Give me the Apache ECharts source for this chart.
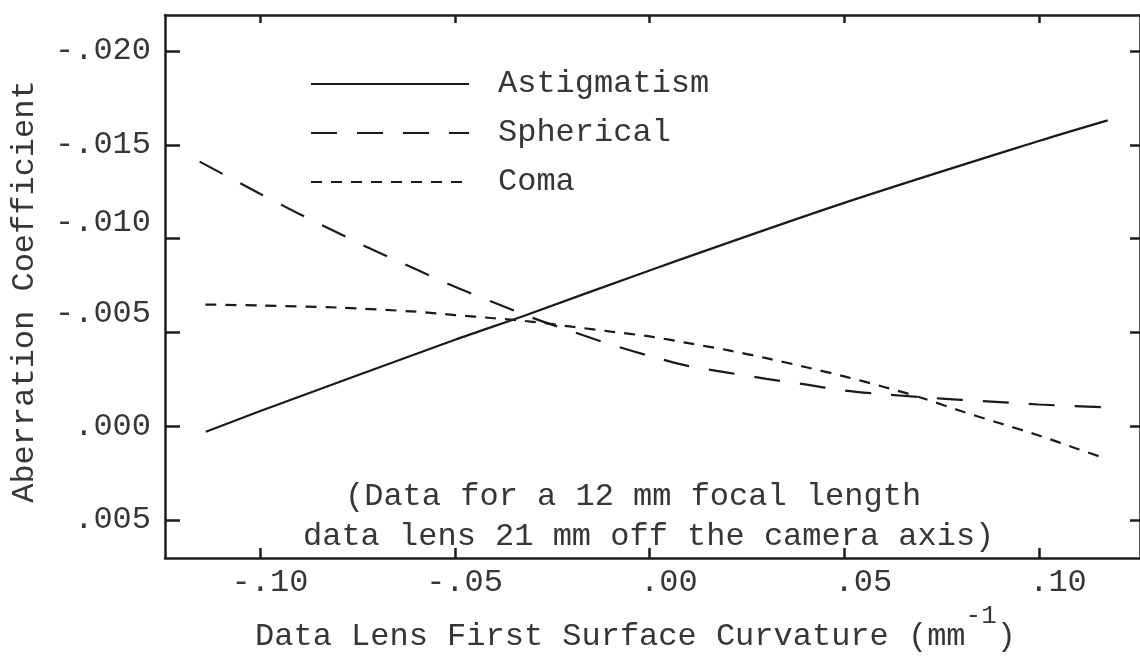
<!DOCTYPE html>
<html>
<head>
<meta charset="utf-8">
<script src="https://cdn.jsdelivr.net/npm/echarts@6/dist/echarts.min.js"></script>
<style>
  html, body { margin: 0; padding: 0; background: #fff; }
  #chart { width: 1140px; height: 658px; }
</style>
</head>
<body>
<div id="chart"></div>
<script>
// curves (x = curvature in 1/mm, y = coefficient)
const astigmatismX = [-0.114, -0.10, -0.05, -0.032, 0.0, 0.05, 0.10, 0.1177];
const astigmatismY = [0.0003, -0.0008, -0.0046, -0.0059, -0.0083, -0.0119, -0.0152, -0.0163];

const sphericalX = [-0.1156, -0.10, -0.09, -0.08, -0.07, -0.06, -0.05, -0.04, -0.03, -0.02, -0.01, 0.0,
  0.01, 0.02, 0.03, 0.04, 0.05, 0.06, 0.07, 0.08, 0.09, 0.10, 0.1162];
const sphericalY = [-0.0141, -0.01238, -0.01131, -0.01029, -0.00929, -0.00836, -0.00743, -0.00659, -0.00577,
  -0.00505, -0.00435, -0.00374, -0.00320, -0.00285, -0.00252, -0.00222, -0.00190, -0.00170, -0.00154,
  -0.00140, -0.00128, -0.00115, -0.00101];

const comaX = [-0.1141, -0.10, -0.08, -0.06, -0.05, -0.04, -0.03, -0.02, -0.01, 0.0, 0.01, 0.02, 0.03,
  0.04, 0.05, 0.06, 0.07, 0.08, 0.09, 0.10, 0.11, 0.1174];
const comaY = [-0.00648, -0.00643, -0.00632, -0.00610, -0.00592, -0.00575, -0.00556, -0.00530, -0.00504,
  -0.00478, -0.00442, -0.00405, -0.00362, -0.00315, -0.00265, -0.00210, -0.00150, -0.00080, -0.00015,
  0.00050, 0.00122, 0.00175];

const seriesNames = ["Astigmatism", "Spherical", "Coma"];

const xTicks = [-0.10, -0.05, 0.0, 0.05, 0.10];
const xTickLabels = [" -.10", " -.05", "  .00", "  .05", "  .10"];
const yTicks = [-0.020, -0.015, -0.010, -0.005, 0.0, 0.005];
const yTickLabels = ["-.020", "-.015", "-.010", "-.005", ".000", ".005"];

const noteLines = ["(Data for a 12 mm focal length", "data lens 21 mm off the camera axis)"];

const FONT = "'Liberation Mono', 'Courier New', monospace";
const INK = "#363636";
const AXIS = "#1e1e1e";

const pairs = (xs, ys) => xs.map((x, i) => [x, ys[i]]);
const findIdx = (ticks, v) => ticks.findIndex((t) => Math.abs(t - v) < 1e-9);

const chart = echarts.init(document.getElementById("chart"));

const axisLineStyle = { color: AXIS, width: 2.5 };
const tickStyle = { color: AXIS, width: 2.5 };

chart.setOption({
  animation: false,
  backgroundColor: "#fff",
  grid: { left: 165, right: -2, top: 15, bottom: 71 },
  legend: {
    data: seriesNames,
    orient: "vertical",
    left: 305,
    top: 63,
    itemWidth: 158,
    itemHeight: 14,
    itemGap: 17,
    itemStyle: { opacity: 0 },
    textStyle: { fontFamily: FONT, fontSize: 32, color: INK, lineHeight: 32, padding: [0, 0, 0, 24] },
  },
  xAxis: [
    {
      type: "value",
      position: "bottom",
      min: -0.1245,
      max: 0.126,
      axisLine: { onZero: false, lineStyle: axisLineStyle },
      axisTick: { inside: true, length: 10, customValues: xTicks, lineStyle: tickStyle },
      axisLabel: {
        customValues: xTicks,
        margin: 8,
        fontFamily: FONT,
        fontSize: 32,
        color: INK,
        formatter: (v) => xTickLabels[findIdx(xTicks, v)] || "",
      },
      splitLine: { show: false },
      name: "{a|Data Lens First Surface Curvature (mm}{s|-1}{a|)}",
      nameLocation: "middle",
      nameGap: 22,
      nameTextStyle: {
        padding: [0, 34, 0, 0],
        rich: {
          a: { fontFamily: FONT, fontSize: 32, color: INK, lineHeight: 32, verticalAlign: "bottom" },
          s: { fontFamily: FONT, fontSize: 26, color: INK, lineHeight: 26, verticalAlign: "bottom", padding: [0, 0, 24, 0] },
        },
      },
    },
    {
      type: "value",
      position: "top",
      min: -0.1245,
      max: 0.126,
      axisLine: { onZero: false, lineStyle: axisLineStyle },
      axisTick: { inside: true, length: 8, customValues: xTicks, lineStyle: tickStyle },
      axisLabel: { show: false },
      splitLine: { show: false },
    },
  ],
  yAxis: [
    {
      type: "value",
      position: "left",
      inverse: true,
      min: -0.02192,
      max: 0.00704,
      axisLine: { onZero: false, lineStyle: axisLineStyle },
      axisTick: { inside: true, length: 15, customValues: yTicks, lineStyle: tickStyle },
      axisLabel: {
        customValues: yTicks,
        margin: 14,
        fontFamily: FONT,
        fontSize: 32,
        color: INK,
        formatter: (v) => {
          const i = findIdx(yTicks, v);
          if (i === 2) return "{u1|" + yTickLabels[i] + "}";
          if (i === 3) return "{u2|" + yTickLabels[i] + "}";
          return yTickLabels[i] || "";
        },
        rich: {
          u1: { fontFamily: FONT, fontSize: 32, color: INK, padding: [0, 0, 32, 0] },
          u2: { fontFamily: FONT, fontSize: 32, color: INK, padding: [0, 0, 38, 0] },
        },
      },
      splitLine: { show: false },
      name: "Aberration Coefficient",
      nameLocation: "middle",
      nameRotate: 90,
      nameGap: 124,
      nameTextStyle: { fontFamily: FONT, fontSize: 32, color: INK, padding: [0, 10, 0, 0] },
    },
    {
      type: "value",
      position: "right",
      inverse: true,
      min: -0.02192,
      max: 0.00704,
      axisLine: { onZero: false, lineStyle: axisLineStyle },
      axisTick: { inside: true, length: 10, customValues: yTicks, lineStyle: tickStyle },
      axisLabel: { show: false },
      splitLine: { show: false },
    },
  ],
  graphic: [
    {
      type: "text",
      x: 345,
      y: 497,
      style: { text: noteLines[0], fontFamily: FONT, fontSize: 32, fill: INK, align: "left", verticalAlign: "middle" },
    },
    {
      type: "text",
      x: 303,
      y: 537,
      style: { text: noteLines[1], fontFamily: FONT, fontSize: 32, fill: INK, align: "left", verticalAlign: "middle" },
    },
  ],
  series: [
    {
      name: seriesNames[0],
      type: "line",
      data: pairs(astigmatismX, astigmatismY),
      symbol: "none",
      smooth: 0.3,
      lineStyle: { color: "#1a1a1a", width: 2.2, type: "solid" },
      itemStyle: { color: "#1a1a1a" },
    },
    {
      name: seriesNames[1],
      type: "line",
      data: pairs(sphericalX, sphericalY),
      symbol: "none",
      smooth: 0.3,
      lineStyle: { color: "#1a1a1a", width: 2.2, type: [26, 20] },
      itemStyle: { color: "#1a1a1a" },
    },
    {
      name: seriesNames[2],
      type: "line",
      data: pairs(comaX, comaY),
      symbol: "none",
      smooth: 0.3,
      lineStyle: { color: "#1a1a1a", width: 2.2, type: [11, 9] },
      itemStyle: { color: "#1a1a1a" },
    },
  ],
});
</script>
</body>
</html>
